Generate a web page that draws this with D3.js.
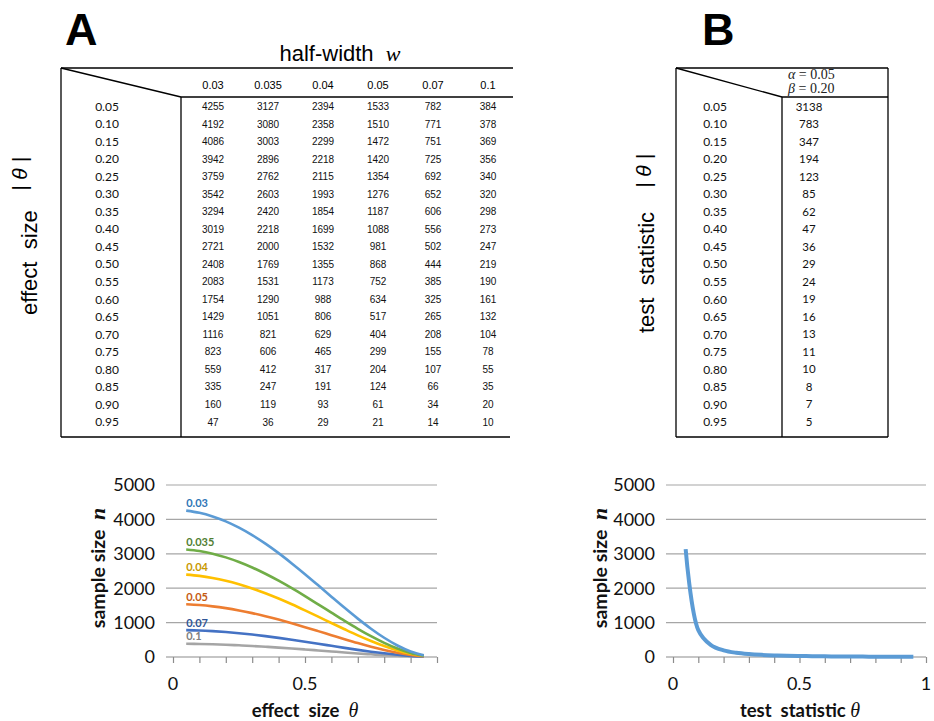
<!DOCTYPE html>
<html>
<head>
<meta charset="utf-8">
<script src="https://cdn.jsdelivr.net/npm/d3@7"></script>
<style>
  html, body { margin: 0; padding: 0; background: #fff; }
  svg { display: block; }
  text { white-space: pre; }
</style>
</head>
<body>
<svg id="fig" width="934" height="721"></svg>
<script>
// Effect sizes (rows of both tables, x of both charts)
const thetaLabels = ["0.05","0.10","0.15","0.20","0.25","0.30","0.35","0.40","0.45","0.50",
                     "0.55","0.60","0.65","0.70","0.75","0.80","0.85","0.90","0.95"];
// Half-widths w (columns of table A, series of chart A)
const widthLabels = ["0.03","0.035","0.04","0.05","0.07","0.1"];

// Required sample sizes for each half-width w
const nW030 = [4255,4192,4086,3942,3759,3542,3294,3019,2721,2408,2083,1754,1429,1116,823,559,335,160,47];
const nW035 = [3127,3080,3003,2896,2762,2603,2420,2218,2000,1769,1531,1290,1051,821,606,412,247,119,36];
const nW040 = [2394,2358,2299,2218,2115,1993,1854,1699,1532,1355,1173,988,806,629,465,317,191,93,29];
const nW050 = [1533,1510,1472,1420,1354,1276,1187,1088,981,868,752,634,517,404,299,204,124,61,21];
const nW070 = [782,771,751,725,692,652,606,556,502,444,385,325,265,208,155,107,66,34,14];
const nW100 = [384,378,369,356,340,320,298,273,247,219,190,161,132,104,78,55,35,20,10];

// Sample sizes for the test statistic (alpha = 0.05, beta = 0.20)
const nTest = [3138,783,347,194,123,85,62,47,36,29,24,19,16,13,11,10,8,7,5];

// Chart axis ticks
const yTicks = [0,1000,2000,3000,4000,5000];
const xTicksA = [0, 0.5];
const xTicksB = [0, 0.5, 1];

const seriesA = [nW030, nW035, nW040, nW050, nW070, nW100];
const lineColors  = ["#5b9bd5","#70ad47","#ffc000","#ed7d31","#4472c4","#a5a5a5"];
const labelColors = ["#2e75b6","#507e32","#c89800","#c55a11","#2f5597","#7f7f7f"];

const svg = d3.select("#fig");
const SANS = "'Liberation Sans', Arial, sans-serif";
const CAL = "Lato, 'Open Sans', sans-serif";
const SERIF = "'Liberation Serif', 'DejaVu Serif', serif";

const thetaNum = thetaLabels.map(Number);

// ---------- Panel letters ----------
svg.append("text").attr("x", 65).attr("y", 45).text("A")
  .attr("font-family", SANS).attr("font-weight", "bold").attr("font-size", 45);
svg.append("text").attr("x", 702).attr("y", 45).text("B")
  .attr("font-family", SANS).attr("font-weight", "bold").attr("font-size", 45);

// ---------- Table A ----------
const rowY = d3.scalePoint().domain(thetaLabels).range([106.5, 422]);
const colX = d3.scalePoint().domain(widthLabels).range([213, 488]);
const tA = svg.append("g").attr("stroke", "#000").attr("stroke-width", 1.3);
tA.append("line").attr("x1", 61).attr("y1", 68).attr("x2", 513).attr("y2", 68);
tA.append("line").attr("x1", 61).attr("y1", 68).attr("x2", 61).attr("y2", 437);
tA.append("line").attr("x1", 61).attr("y1", 437).attr("x2", 510).attr("y2", 437);
tA.append("line").attr("x1", 61).attr("y1", 68).attr("x2", 181).attr("y2", 97);
tA.append("line").attr("x1", 181).attr("y1", 97).attr("x2", 513).attr("y2", 97);
tA.append("line").attr("x1", 181).attr("y1", 97).attr("x2", 181).attr("y2", 437);

const hw = svg.append("text").attr("x", 340).attr("y", 61).attr("text-anchor", "middle")
  .attr("font-family", SANS).attr("font-size", 22);
hw.append("tspan").text("half-width  ");
hw.append("tspan").text("w").attr("font-family", SERIF).attr("font-style", "italic");

svg.append("g").selectAll("text").data(widthLabels).join("text")
  .attr("x", d => colX(d)).attr("y", 89).attr("text-anchor", "middle")
  .attr("font-family", SANS).attr("font-size", 11).text(d => d);

svg.append("g").selectAll("text").data(thetaLabels).join("text")
  .attr("x", 107).attr("y", d => rowY(d)).attr("dy", "0.35em").attr("text-anchor", "middle")
  .attr("font-family", CAL).attr("font-size", 12).attr("fill", "#111").text(d => d);

seriesA.forEach((vals, j) => {
  svg.append("g").selectAll("text").data(vals).join("text")
    .attr("x", colX(widthLabels[j])).attr("y", (d, i) => rowY(thetaLabels[i])).attr("dy", "0.35em")
    .attr("text-anchor", "middle").attr("font-family", SANS).attr("font-size", 10)
    .attr("fill", "#111").text(d => d);
});

// vertical row title of table A
const vA = svg.append("g").attr("font-family", SANS).attr("fill", "#000");
vA.append("text").attr("transform", "translate(37,315) rotate(-90)").attr("font-size", 22)
  .text("effect  size");
vA.append("text").attr("transform", "translate(27,191) rotate(-90)").attr("font-size", 21)
  .text("| θ |").attr("font-style", "italic");

// ---------- Table B ----------
const tB = svg.append("g").attr("stroke", "#000").attr("stroke-width", 1.3);
tB.append("line").attr("x1", 676).attr("y1", 68).attr("x2", 888).attr("y2", 68);
tB.append("line").attr("x1", 676).attr("y1", 68).attr("x2", 676).attr("y2", 437);
tB.append("line").attr("x1", 888).attr("y1", 68).attr("x2", 888).attr("y2", 437);
tB.append("line").attr("x1", 676).attr("y1", 437).attr("x2", 888).attr("y2", 437);
tB.append("line").attr("x1", 676).attr("y1", 68).attr("x2", 782).attr("y2", 97);
tB.append("line").attr("x1", 782).attr("y1", 97).attr("x2", 888).attr("y2", 97);
tB.append("line").attr("x1", 782).attr("y1", 97).attr("x2", 782).attr("y2", 437);

const ab = svg.append("g").attr("font-family", SERIF).attr("font-size", 14).attr("fill", "#222");
const a1 = ab.append("text").attr("x", 788).attr("y", 79);
a1.append("tspan").text("α").attr("font-style", "italic");
a1.append("tspan").text(" = 0.05");
const b1 = ab.append("text").attr("x", 788).attr("y", 93);
b1.append("tspan").text("β").attr("font-style", "italic");
b1.append("tspan").text(" = 0.20");

svg.append("g").selectAll("text").data(thetaLabels).join("text")
  .attr("x", 715).attr("y", d => rowY(d)).attr("dy", "0.35em").attr("text-anchor", "middle")
  .attr("font-family", CAL).attr("font-size", 12).attr("fill", "#111").text(d => d);
svg.append("g").selectAll("text").data(nTest).join("text")
  .attr("x", 809).attr("y", (d, i) => rowY(thetaLabels[i])).attr("dy", "0.35em")
  .attr("text-anchor", "middle").attr("font-family", CAL).attr("font-size", 11.5)
  .attr("fill", "#111").text(d => d);

const vB = svg.append("g").attr("font-family", SANS).attr("fill", "#000");
vB.append("text").attr("transform", "translate(654,333) rotate(-90)").attr("font-size", 22)
  .text("test  statistic");
vB.append("text").attr("transform", "translate(651,188) rotate(-90)").attr("font-size", 21)
  .text("| θ |").attr("font-style", "italic");

// ---------- Charts ----------
function chart(cfg) {
  const x = d3.scaleLinear().domain([0, 1]).range([cfg.x0, cfg.x1]);
  const y = d3.scaleLinear().domain([0, 5000]).range([657, 485]);
  const g = svg.append("g");

  // gridlines
  g.append("g").selectAll("line").data(yTicks.filter(d => d > 0)).join("line")
    .attr("x1", cfg.gx0).attr("x2", cfg.x1).attr("y1", d => y(d)).attr("y2", d => y(d))
    .attr("stroke", "#a6a6a6").attr("stroke-width", 1.2);

  // x axis with ticks every 0.1
  const xAxis = d3.axisBottom(x).tickValues(d3.range(0, 11).map(i => i / 10))
    .tickSize(6).tickFormat("");
  const ax = g.append("g").attr("transform", `translate(0,${y(0)})`).call(xAxis);
  ax.select(".domain").remove();
  ax.selectAll(".tick line").attr("stroke", "#8c8c8c").attr("stroke-width", 1.2);
  g.append("line").attr("x1", cfg.gx0).attr("x2", cfg.x1).attr("y1", y(0)).attr("y2", y(0))
    .attr("stroke", "#8c8c8c").attr("stroke-width", 1.2);

  g.append("g").selectAll("text").data(cfg.xTicks).join("text")
    .attr("x", d => x(d)).attr("y", 690).attr("text-anchor", "middle")
    .attr("font-family", CAL).attr("font-size", 18).attr("fill", "#111").text(d => d);
  g.append("g").selectAll("text").data(yTicks).join("text")
    .attr("x", cfg.gx0 - 11).attr("y", d => y(d)).attr("dy", "0.35em").attr("text-anchor", "end")
    .attr("font-family", CAL).attr("font-size", 18).attr("fill", "#111").text(d => d);

  // y title
  const yt = g.append("text").attr("transform", `translate(${cfg.ytx},568) rotate(-90)`)
    .attr("text-anchor", "middle").attr("font-family", CAL).attr("font-weight", "bold")
    .attr("font-size", 19.5).attr("fill", "#111");
  yt.append("tspan").text("sample size  ");
  yt.append("tspan").text("n").attr("font-family", SERIF).attr("font-style", "italic")
    .attr("font-size", 22);

  // x title
  const xt = g.append("text").attr("x", cfg.xtc).attr("y", 717).attr("text-anchor", "middle")
    .attr("font-family", CAL).attr("font-weight", "bold").attr("font-size", 18.5).attr("fill", "#111");
  xt.append("tspan").text(cfg.xTitle);
  xt.append("tspan").text("θ").attr("font-family", SERIF).attr("font-style", "italic")
    .attr("font-weight", "normal").attr("font-size", 20);

  const line = d3.line().x((d, i) => x(thetaNum[i])).y(d => y(d)).curve(d3.curveCatmullRom.alpha(0.5));
  return { g, x, y, line };
}

const cA = chart({ x0: 173, x1: 437, gx0: 166, xTicks: xTicksA, ytx: 105, xtc: 305,
                   xTitle: "effect  size  " });
seriesA.slice().reverse().forEach((vals, k) => {
  const j = seriesA.length - 1 - k;
  cA.g.append("path").attr("d", cA.line(vals)).attr("fill", "none")
    .attr("stroke", lineColors[j]).attr("stroke-width", 2.6);
});
seriesA.forEach((vals, j) => {
  cA.g.append("text").attr("x", cA.x(thetaNum[0])).attr("y", cA.y(vals[0]) - 3.5)
    .attr("font-family", CAL).attr("font-weight", "bold").attr("font-size", 11)
    .attr("fill", labelColors[j]).text(widthLabels[j]);
});

const cB = chart({ x0: 673, x1: 926, gx0: 666, xTicks: xTicksB, ytx: 607, xtc: 800,
                   xTitle: "test  statistic " });
cB.g.append("path").attr("d", cB.line(nTest)).attr("fill", "none")
  .attr("stroke", "#5b9bd5").attr("stroke-width", 4).attr("stroke-linejoin", "round");
</script>
</body>
</html>
